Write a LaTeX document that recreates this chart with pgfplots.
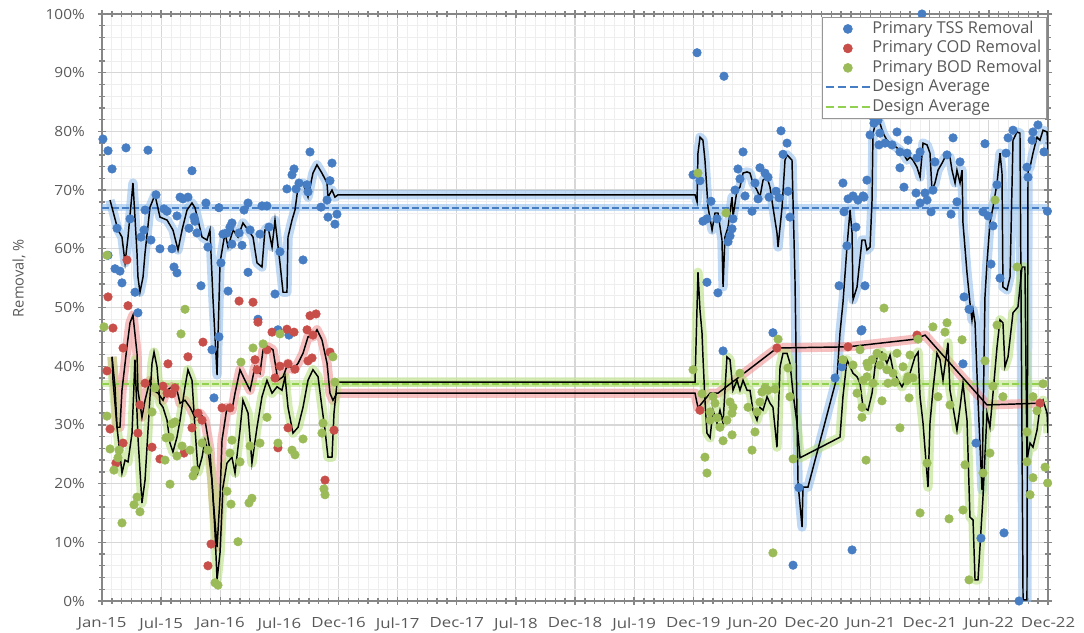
\documentclass[border=0pt]{standalone}
\usepackage{fontspec}
\setmainfont{Open Sans}
\usepackage{pgfplots}
\usepackage{pgfplotstable}
\pgfplotsset{compat=1.18}
\definecolor{tssblue}{RGB}{70,125,195}
\definecolor{codred}{RGB}{200,78,74}
\definecolor{bodgreen}{RGB}{155,187,89}
\definecolor{dashblue}{RGB}{70,125,195}
\definecolor{dashgreen}{RGB}{146,208,80}
\definecolor{glowblue}{RGB}{150,192,236}
\definecolor{glowred}{RGB}{240,140,140}
\definecolor{glowgreen}{RGB}{180,222,120}
\definecolor{textgray}{RGB}{89,89,89}
\definecolor{gridmaj}{RGB}{215,215,215}
\definecolor{gridmin}{RGB}{238,238,238}
\definecolor{axgray}{RGB}{134,134,134}
\definecolor{leggray}{RGB}{150,150,150}

% x = years since Jan 2015, y = removal %
\pgfplotstableread{
x y
0.008 78.7
0.051 76.7
0.085 73.6
0.203 77.2
0.389 76.8
0.761 73.3
1.759 76.5
1.945 74.6
1.624 73.6
1.607 72.6
1.564 70.2
1.641 70.2
1.666 71.2
1.734 70.9
1.742 69.7
1.928 71.6
1.903 68.3
1.852 67.1
1.911 65.4
1.987 65.9
1.970 64.2
0.457 69.2
0.524 66.8
0.550 66.4
0.660 68.8
0.685 68.5
0.727 68.8
0.879 67.8
0.989 67.0
1.201 66.6
1.235 67.8
1.353 67.3
1.395 67.3
0.364 66.6
0.237 65.1
0.127 63.5
0.355 63.2
0.330 62.0
0.414 61.5
0.490 60.0
0.592 60.0
0.634 65.6
0.778 65.4
0.786 64.7
0.736 63.5
0.803 62.7
0.896 60.3
1.099 64.4
1.082 63.7
1.057 62.7
1.023 62.5
1.159 62.7
1.252 63.2
1.336 62.5
1.412 63.7
1.099 60.8
1.184 60.6
1.505 59.5
1.006 57.6
1.235 56.0
1.700 58.1
1.463 52.3
1.066 52.8
0.837 53.7
0.609 56.9
0.634 55.9
0.110 56.6
0.152 56.2
0.169 54.2
0.279 52.6
0.051 58.9
0.304 49.1
1.319 48.0
1.488 46.2
1.581 45.3
0.989 45.0
0.930 42.8
0.947 34.6
5.032 93.4
5.260 89.4
5.742 80.1
5.793 78.0
5.759 76.1
5.421 76.5
5.378 73.6
5.564 73.8
5.607 72.9
5.632 72.2
5.395 71.9
5.522 71.2
5.700 69.8
5.801 69.8
5.641 68.8
5.548 68.5
5.438 69.0
5.353 70.0
5.057 71.6
4.998 72.6
5.150 68.1
5.497 66.4
5.725 68.7
5.818 65.4
5.082 64.7
5.116 65.1
5.201 65.1
5.336 65.1
5.328 63.4
5.311 62.2
5.294 61.2
5.116 54.3
5.209 52.5
5.252 42.6
5.674 45.7
6.266 71.2
6.309 68.5
6.351 69.0
6.393 68.3
6.436 69.0
6.275 66.3
6.376 63.7
6.300 60.5
6.233 53.7
6.452 53.7
6.419 46.0
6.258 39.9
6.199 38.0
5.894 19.3
5.844 6.1
6.343 8.7
6.495 79.4
6.469 71.7
6.520 82.5
6.528 81.4
6.571 77.7
6.562 81.9
6.579 79.7
6.723 79.9
6.622 78.0
6.681 77.7
6.816 78.5
6.748 76.5
6.808 76.3
6.892 75.5
6.918 76.5
7.197 78.9
7.467 77.9
7.044 74.8
7.146 76.0
7.256 74.8
7.704 80.2
7.662 78.9
7.873 79.9
7.915 81.1
7.865 78.5
7.966 76.5
7.645 76.3
7.822 73.9
7.831 72.2
7.569 70.9
6.748 73.8
6.782 70.5
6.884 69.5
6.960 69.5
7.027 70.0
6.977 68.3
6.918 67.8
7.230 68.0
7.011 66.3
7.180 65.9
7.450 66.3
7.493 65.6
7.535 63.9
7.995 66.4
6.444 68.8
7.518 57.4
7.594 55.0
7.290 51.8
7.332 49.7
6.427 46.2
7.281 40.4
7.391 26.9
7.433 10.7
7.628 11.6
7.755 0.0
6.934 100.0
}\tsspts

\pgfplotstableread{
x y
0.211 58.1
0.051 51.8
0.220 50.3
0.093 46.5
1.159 51.1
1.277 50.9
1.759 48.6
1.810 48.9
0.854 44.1
1.319 47.5
1.438 45.8
1.564 46.3
1.624 45.8
1.734 46.2
1.784 45.3
0.178 43.1
0.727 41.6
0.558 40.4
1.294 41.1
1.395 42.8
1.463 38.0
1.311 39.4
1.505 40.0
1.573 40.4
1.632 39.5
1.742 40.9
1.776 41.4
1.928 42.4
0.042 39.2
0.364 37.1
0.617 36.3
0.516 36.6
0.812 32.0
0.846 30.8
0.761 29.5
0.068 29.3
0.592 35.3
0.550 35.4
1.082 32.9
1.015 32.9
0.321 33.4
0.304 28.6
0.178 26.9
0.423 26.2
0.490 24.2
0.693 25.2
1.488 26.1
1.573 29.5
1.962 29.1
0.118 23.5
1.886 20.6
0.922 9.7
0.896 6.0
5.708 43.1
6.309 43.3
6.892 45.3
7.932 33.7
5.057 32.5
}\codpts

\pgfplotstableread{
x y
0.017 46.7
0.042 58.9
0.702 49.7
0.668 45.5
1.505 45.5
1.362 43.8
1.277 43.1
1.175 40.7
0.448 36.3
1.953 41.6
1.970 37.3
0.042 31.5
0.423 32.2
1.395 31.3
0.617 30.5
0.592 30.2
0.575 27.9
0.541 27.8
0.677 26.4
0.634 24.7
0.744 25.7
0.846 26.9
0.896 25.7
0.068 25.9
0.144 25.7
0.135 24.4
0.101 22.3
0.533 24.0
0.786 22.3
0.770 21.3
1.099 27.4
1.082 25.2
1.167 23.7
1.252 26.4
1.336 26.9
1.488 26.9
1.632 24.9
1.607 25.7
1.700 27.6
1.268 17.5
1.243 16.7
1.091 16.5
1.057 18.7
0.296 17.7
0.271 16.4
0.321 15.2
0.575 19.9
0.169 13.3
1.150 10.1
1.869 30.3
1.860 28.6
1.877 19.1
1.886 18.1
0.956 3.1
0.981 2.7
5.717 44.6
5.801 39.7
5.395 38.8
5.607 36.3
5.632 35.9
5.691 36.1
5.581 35.6
5.818 34.8
5.074 35.3
5.167 34.8
5.311 33.9
5.336 33.0
5.463 33.0
5.564 33.9
5.184 33.7
5.201 31.2
5.142 30.8
5.285 30.8
5.328 32.0
5.539 32.2
5.142 32.2
5.226 29.6
5.328 28.3
5.522 28.8
5.252 27.3
5.497 25.7
5.099 24.5
5.116 21.8
5.844 24.2
5.674 8.2
4.998 39.4
5.040 72.9
5.277 66.1
6.266 41.1
6.351 40.2
6.410 42.8
6.469 40.5
6.512 41.1
6.554 42.2
6.385 35.4
6.520 37.1
6.427 33.0
6.427 31.3
6.461 24.0
6.613 49.9
7.027 46.7
7.146 47.4
7.129 45.8
7.273 44.5
6.901 44.6
6.723 42.2
6.833 41.9
6.605 41.6
6.478 39.9
6.579 40.2
6.638 39.4
6.689 38.8
6.774 39.9
6.816 38.2
6.858 38.0
6.469 38.2
6.436 37.6
6.647 37.1
6.706 37.3
6.808 37.6
7.467 40.9
7.535 36.6
7.958 37.0
7.619 34.8
7.873 34.8
7.070 34.8
6.825 34.6
6.596 34.1
7.171 33.4
7.907 32.4
6.748 29.5
7.822 28.8
6.977 23.5
7.298 23.2
7.509 25.2
7.450 21.8
7.822 23.7
7.975 22.8
7.873 21.0
7.997 20.1
7.848 18.1
6.918 15.0
7.163 14.0
7.281 15.5
7.332 3.6
7.552 68.3
7.738 56.9
7.569 47.0
}\bodpts

\pgfplotstableread{
x y
0.068 68.3
0.135 63.2
0.169 62.0
0.195 57.6
0.220 62.0
0.262 71.2
0.296 59.3
0.304 55.2
0.321 52.6
0.347 55.2
0.364 59.3
0.406 67.1
0.448 69.2
0.490 65.4
0.550 64.9
0.600 63.2
0.643 59.8
0.677 63.2
0.719 66.6
0.761 67.8
0.786 67.0
0.812 64.9
0.846 62.0
0.888 61.5
0.913 63.2
0.939 51.3
0.973 38.5
0.998 57.6
1.040 62.7
1.066 60.3
1.108 63.2
1.150 62.0
1.192 64.4
1.235 63.2
1.277 62.0
1.311 57.6
1.353 56.9
1.378 63.2
1.404 63.7
1.438 60.3
1.463 64.9
1.505 57.6
1.531 52.6
1.564 52.6
1.573 62.0
1.607 64.9
1.632 66.6
1.658 70.5
1.700 71.2
1.742 68.8
1.784 72.9
1.818 74.3
1.860 72.9
1.903 71.2
1.911 68.8
1.945 70.0
1.970 68.8
1.996 69.2
5.015 69.2
5.032 68.0
5.040 76.3
5.057 79.0
5.082 78.5
5.099 75.1
5.125 67.1
5.159 63.2
5.184 66.1
5.209 66.1
5.243 61.5
5.252 53.5
5.268 62.0
5.294 63.7
5.328 68.8
5.336 65.4
5.370 70.0
5.395 70.5
5.421 72.9
5.455 73.1
5.480 72.9
5.505 71.2
5.539 70.0
5.564 68.8
5.590 71.7
5.624 72.2
5.649 70.5
5.674 67.1
5.708 62.7
5.717 60.3
5.751 67.1
5.776 75.1
5.793 76.0
5.835 75.1
5.860 55.2
5.886 20.1
5.920 12.6
5.928 19.4
5.970 19.4
6.216 38.2
6.241 45.7
6.266 50.8
6.300 60.3
6.326 66.6
6.343 62.7
6.351 51.3
6.385 53.5
6.427 61.5
6.452 61.5
6.469 59.8
6.495 60.3
6.512 68.3
6.520 79.7
6.554 82.3
6.579 81.4
6.605 79.7
6.638 78.5
6.664 78.0
6.689 77.7
6.723 77.2
6.748 76.8
6.774 76.3
6.808 75.1
6.833 75.6
6.858 75.1
6.892 73.9
6.918 72.2
6.943 78.0
6.977 77.7
7.002 76.3
7.019 70.0
7.044 71.2
7.070 73.4
7.104 74.6
7.129 75.6
7.171 75.6
7.188 73.4
7.214 71.2
7.230 73.4
7.256 71.2
7.273 73.4
7.281 64.4
7.315 55.9
7.340 50.8
7.357 47.9
7.366 49.6
7.383 47.4
7.408 34.2
7.442 18.9
7.467 51.8
7.484 57.6
7.509 64.4
7.535 67.1
7.569 71.2
7.594 76.3
7.611 72.9
7.619 53.5
7.653 53.0
7.679 55.2
7.704 78.5
7.738 79.9
7.763 79.7
7.789 0.2
7.822 0.2
7.831 73.4
7.848 73.9
7.873 76.3
7.907 79.0
7.932 78.5
7.958 80.2
7.992 79.9
8.000 76.8
}\tssline

\pgfplotstableread{
x y
0.085 41.6
0.110 36.5
0.127 29.6
0.152 29.6
0.169 35.9
0.211 43.3
0.237 47.4
0.262 48.7
0.296 42.2
0.304 35.9
0.338 31.3
0.364 34.2
0.406 37.6
0.431 35.9
0.474 35.4
0.516 34.2
0.550 35.9
0.592 36.5
0.634 35.9
0.660 33.7
0.702 34.2
0.744 33.0
0.786 31.3
0.829 32.0
0.871 30.8
0.913 25.7
0.939 17.7
0.973 9.2
0.998 17.7
1.015 27.4
1.057 33.0
1.099 32.5
1.125 35.4
1.167 39.4
1.209 37.6
1.252 35.9
1.294 39.9
1.336 38.8
1.362 42.8
1.404 43.3
1.446 42.8
1.488 37.6
1.531 38.2
1.573 40.5
1.615 39.4
1.658 40.5
1.700 42.2
1.742 45.0
1.784 45.0
1.818 46.2
1.860 44.5
1.903 40.5
1.928 35.4
1.953 34.2
1.987 35.4
5.015 35.4
5.040 32.9
5.142 35.4
5.209 35.4
5.708 43.1
6.309 43.3
6.875 44.6
6.960 45.3
7.484 33.4
7.932 33.7
}\codline

\pgfplotstableread{
x y
0.085 41.6
0.093 37.6
0.127 29.6
0.169 21.8
0.195 24.0
0.220 23.7
0.254 28.6
0.279 41.1
0.304 27.9
0.338 16.7
0.364 20.6
0.389 29.1
0.423 40.5
0.440 42.4
0.465 39.9
0.490 33.7
0.516 33.0
0.550 30.8
0.575 26.9
0.600 25.4
0.634 27.9
0.660 30.8
0.702 36.5
0.727 39.4
0.761 37.6
0.786 29.6
0.812 22.0
0.846 24.5
0.871 27.4
0.896 25.7
0.930 20.6
0.956 11.6
0.973 3.6
0.998 8.2
1.023 19.4
1.057 23.5
1.099 24.5
1.125 21.8
1.167 29.1
1.192 34.2
1.235 32.0
1.268 23.5
1.311 29.6
1.353 34.8
1.395 37.6
1.438 35.4
1.480 36.5
1.522 35.9
1.548 38.2
1.573 33.0
1.615 28.6
1.658 29.6
1.700 33.0
1.742 37.6
1.784 39.4
1.827 38.2
1.860 33.0
1.886 29.1
1.911 24.5
1.945 24.5
1.962 32.0
1.987 37.1
1.996 37.3
5.015 37.3
5.040 56.0
5.057 49.6
5.074 45.7
5.082 41.6
5.099 34.2
5.116 28.6
5.142 27.8
5.167 32.5
5.201 30.3
5.226 32.5
5.252 30.3
5.285 41.6
5.311 41.1
5.336 35.9
5.370 37.6
5.395 35.9
5.421 37.6
5.455 35.9
5.480 35.9
5.505 32.5
5.539 30.8
5.564 33.0
5.590 32.5
5.624 34.8
5.649 33.7
5.674 33.0
5.708 26.2
5.734 39.9
5.759 42.2
5.793 42.2
5.818 40.5
5.844 35.4
5.877 30.3
5.903 24.4
6.241 27.9
6.266 34.8
6.300 41.1
6.326 39.9
6.351 38.8
6.385 38.2
6.410 37.1
6.436 33.0
6.478 32.5
6.512 35.4
6.537 39.9
6.562 42.2
6.596 42.4
6.638 40.5
6.664 41.9
6.689 39.4
6.732 37.6
6.765 36.5
6.808 38.2
6.833 38.8
6.875 41.6
6.901 42.4
6.918 34.8
6.943 30.3
6.985 19.4
7.002 30.3
7.027 35.9
7.061 42.2
7.087 41.1
7.112 37.6
7.154 44.0
7.171 35.9
7.197 33.0
7.230 29.1
7.256 33.0
7.281 37.1
7.315 30.8
7.340 14.3
7.366 13.8
7.383 3.6
7.408 3.6
7.450 17.7
7.484 32.0
7.509 29.6
7.535 35.4
7.569 43.3
7.594 47.9
7.619 47.4
7.636 39.9
7.662 41.6
7.704 49.1
7.746 50.1
7.780 56.9
7.805 56.9
7.822 24.0
7.848 26.9
7.873 26.2
7.907 29.1
7.932 33.0
7.958 34.2
7.992 32.0
8.000 28.6
}\bodline

\begin{document}
\begin{tikzpicture}
\begin{axis}[
  at={(0,0)}, anchor=south west,
  scale only axis, width=709.5pt, height=440.25pt,
  xmin=0, xmax=8, ymin=0, ymax=100,
  xtick={0,0.5,1,1.5,2,2.5,3,3.5,4,4.5,5,5.5,6,6.5,7,7.5,8},
  xticklabels={Jan-15,Jul-15,Jan-16,Jul-16,Dec-16,Jul-17,Dec-17,Jul-18,Dec-18,Jul-19,Dec-19,Jun-20,Dec-20,Jun-21,Dec-21,Jun-22,Dec-22},
  ytick={0,10,20,30,40,50,60,70,80,90,100},
  yticklabels={0\%,10\%,20\%,30\%,40\%,50\%,60\%,70\%,80\%,90\%,100\%},
  minor x tick num=5, minor y tick num=4,
  grid=both,
  major grid style={draw=gridmaj, line width=0.9pt},
  minor grid style={draw=gridmin, line width=0.6pt},
  axis line style={draw=axgray, line width=1pt},
  tick style={draw=axgray, line width=1pt},
  tick align=center, major tick length=6pt, minor tick length=4pt,
  ticklabel style={font=\fontsize{10.5}{12}\selectfont, text=textgray},
  xticklabel style={xscale=1.2, yshift=-6pt},
  yticklabel style={xscale=1.1, xshift=-5.5pt},
  ylabel={Removal, \%},
  ylabel style={at={(axis description cs:-0.0877,0.55)}, anchor=center, font=\fontsize{11}{13}\selectfont, text=textgray},
  legend style={at={(0.998,0.995)}, anchor=north east, draw=leggray, fill=white,
    font=\fontsize{12.3}{14}\selectfont, text=textgray, inner sep=2pt, row sep=1pt,
    nodes={inner sep=1pt, text height=9pt, text depth=2.6pt}},
  legend cell align=left,
]
% design average glows
\addplot[glowblue, line width=5pt, opacity=0.6, forget plot] coordinates {(0,67) (8,67)};
\addplot[glowgreen, line width=5pt, opacity=0.5, forget plot] coordinates {(0,37) (8,37)};
% moving-average glows
\addplot[glowblue, line width=7pt, opacity=0.6, line join=round, forget plot] table {\tssline};
\addplot[glowred, line width=7pt, opacity=0.55, line join=round, forget plot] table {\codline};
\addplot[glowgreen, line width=7pt, opacity=0.55, line join=round, forget plot] table {\bodline};
% measured points
\addplot[tssblue, only marks, mark=*, mark size=3.2pt, mark options={draw=tssblue, fill=tssblue, line width=0.4pt, solid},
  legend image code/.code={\fill[tssblue] (16.5pt,0pt) circle (3.4pt);}] table {\tsspts};
\addlegendentry{Primary TSS Removal}
\addplot[codred, only marks, mark=*, mark size=3.2pt, mark options={draw=codred, fill=codred, line width=0.4pt, solid},
  legend image code/.code={\fill[codred] (16.5pt,0pt) circle (3.4pt);}] table {\codpts};
\addlegendentry{Primary COD Removal}
\addplot[bodgreen, only marks, mark=*, mark size=3.2pt, mark options={draw=bodgreen, fill=bodgreen, line width=0.4pt, solid},
  legend image code/.code={\fill[bodgreen] (16.5pt,0pt) circle (3.4pt);}] table {\bodpts};
\addlegendentry{Primary BOD Removal}
% design averages
\addplot[dashblue, line width=1.6pt, dash pattern=on 5pt off 2.5pt,
  legend image code/.code={\draw[dashblue, line width=1.6pt, dash pattern=on 6pt off 3pt] (0pt,0pt) -- (33pt,0pt);}] coordinates {(0,67) (8,67)};
\addlegendentry{Design Average}
\addplot[dashgreen, line width=1.6pt, dash pattern=on 5pt off 2.5pt,
  legend image code/.code={\draw[dashgreen, line width=1.6pt, dash pattern=on 6pt off 3pt] (0pt,0pt) -- (33pt,0pt);}] coordinates {(0,37) (8,37)};
\addlegendentry{Design Average}
% moving averages
\addplot[black, line width=1.1pt, forget plot] table {\tssline};
\addplot[black, line width=1.1pt, forget plot] table {\codline};
\addplot[black, line width=1.1pt, forget plot] table {\bodline};
\end{axis}
\pgfresetboundingbox
\path[use as bounding box] (-76.5pt,-23.25pt) rectangle (736.5pt,450.75pt);
\end{tikzpicture}
\end{document}
